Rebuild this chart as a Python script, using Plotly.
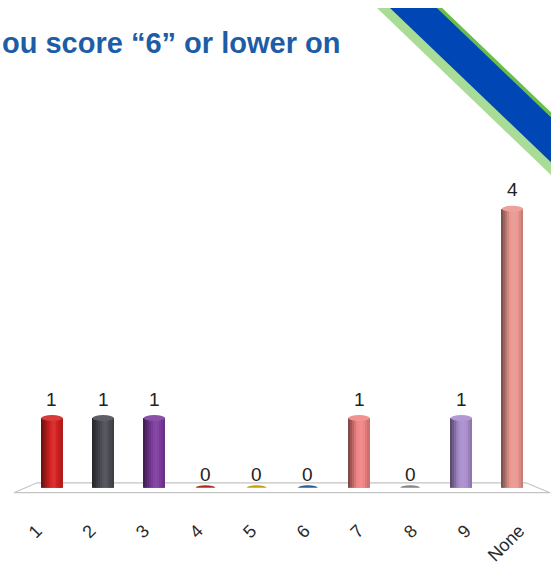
import plotly.graph_objects as go

# ---- data ----
categories = ["1", "2", "3", "4", "5", "6", "7", "8", "9", "None"]
counts = [1, 1, 1, 0, 0, 0, 1, 0, 1, 4]
bar_colors = ["#d42020", "#4a4b52", "#7b3a9c", "#a83222", "#c9a00a",
              "#2d5c9c", "#f08484", "#858585", "#a88ccc", "#ea968e"]
title_text = "ou score “6” or lower on"

W, H = 551, 565


def px(x):
    return x / W


def py(y):
    return 1 - y / H


def shade(hexc, f):
    r, g, b = int(hexc[1:3], 16), int(hexc[3:5], 16), int(hexc[5:7], 16)
    if f <= 1:
        r, g, b = r * f, g * f, b * f
    else:
        t = min(f - 1, 1)
        r, g, b = r + (255 - r) * t, g + (255 - g) * t, b + (255 - b) * t
    return "#%02x%02x%02x" % (int(r), int(g), int(b))


xpos = list(range(len(categories)))
bw = 0.42
profile = [0.55, 0.66, 0.78, 0.9, 1.0, 1.06, 1.08, 1.06, 1.0, 0.92, 0.85]
N = len(profile)

fig = go.Figure()
for k, f in enumerate(profile):
    fig.add_trace(go.Bar(
        x=xpos, y=counts, width=[bw / N + 0.004] * len(xpos),
        offset=-bw / 2 + k * bw / N,
        marker=dict(color=[shade(c, f) for c in bar_colors], line=dict(width=0)),
        hoverinfo="skip", showlegend=False,
    ))

# invisible trace for the label axis
fig.add_trace(go.Scatter(x=xpos, y=[0] * len(xpos), xaxis="x2", yaxis="y",
                         mode="markers", marker=dict(opacity=0),
                         hoverinfo="skip", showlegend=False))

cap = 3.0 / 70.5
shapes = []
# floor
shapes.append(dict(type="path", xref="paper", yref="paper", layer="below",
                   path=f"M {px(14)},{py(498)} L {px(550)},{py(498)} L {px(526)},{py(488)} L {px(37)},{py(488)} Z",
                   fillcolor="white", line=dict(color="#c4c4c4", width=1.2)))
for i, (v, c) in enumerate(zip(counts, bar_colors)):
    if v > 0:
        shapes.append(dict(type="circle", xref="x", yref="y", layer="below",
                           x0=i - bw / 2, x1=i + bw / 2, y0=-cap, y1=cap,
                           fillcolor=shade(c, 0.92), line=dict(width=0)))
        shapes.append(dict(type="circle", xref="x", yref="y", layer="above",
                           x0=i - bw / 2, x1=i + bw / 2, y0=v - cap, y1=v + cap,
                           fillcolor=shade(c, 1.12), line=dict(width=0)))
    else:
        shapes.append(dict(type="circle", xref="x", yref="y", layer="above",
                           x0=i - 0.19, x1=i + 0.19, y0=-cap * 0.85, y1=cap * 0.85,
                           fillcolor=c, line=dict(width=0)))

# ribbon (top right decoration)
def band(xa, xb, ya, yb):
    return f"M {px(xa)},{py(8)} L {px(xb)},{py(8)} L {px(551)},{py(yb)} L {px(551)},{py(ya)} Z"

shapes.append(dict(type="path", xref="paper", yref="paper", layer="above",
                   path=band(377, 442, 177, 113.7), fillcolor="#a9dc97", line=dict(width=0)))
shapes.append(dict(type="path", xref="paper", yref="paper", layer="above",
                   path=band(437, 442, 118.6, 113.7), fillcolor="#69be47", line=dict(width=0)))
shapes.append(dict(type="path", xref="paper", yref="paper", layer="above",
                   path=band(390, 437, 164, 118.6), fillcolor="#0046b4", line=dict(width=0)))

annotations = []
for i, v in enumerate(counts):
    annotations.append(dict(x=i, y=v, xref="x", yref="y", text=str(v),
                            showarrow=False, yanchor="middle",
                            yshift=13 if v == 0 else 19,
                            font=dict(family="Liberation Sans, Arial", size=19, color="#222222")))
annotations.append(dict(x=px(0), y=py(43), xref="paper", yref="paper",
                        xanchor="left", yanchor="middle", text=title_text, showarrow=False,
                        font=dict(family="Liberation Sans, Arial", size=29, color="#1d5da6"),
                        ))

fig.update_layout(
    width=W, height=H, margin=dict(l=0, r=0, t=0, b=0),
    paper_bgcolor="white", plot_bgcolor="rgba(0,0,0,0)",
    barmode="overlay", bargap=0, showlegend=False,
    xaxis=dict(domain=[px(26.4), px(538.1)], range=[-0.5, 9.5], showticklabels=False,
               showgrid=False, zeroline=False, showline=False, ticks="", fixedrange=True),
    xaxis2=dict(domain=[px(10), px(546)], range=[-0.5, 9.5], anchor="free",
                position=py(498), side="bottom",
                tickvals=xpos, ticktext=categories, tickangle=-45,
                showgrid=False, zeroline=False, showline=False, ticks="",
                ticklabelstandoff=23, fixedrange=True,
                tickfont=dict(family="Liberation Sans, Arial", size=18, color="#2a2a2a")),
    yaxis=dict(domain=[py(493), py(168.7)], range=[0, 4.6], visible=False, fixedrange=True),
    shapes=shapes, annotations=annotations,
)
fig.layout.annotations[-1].font.weight = "bold"

fig.write_html("out.html")
